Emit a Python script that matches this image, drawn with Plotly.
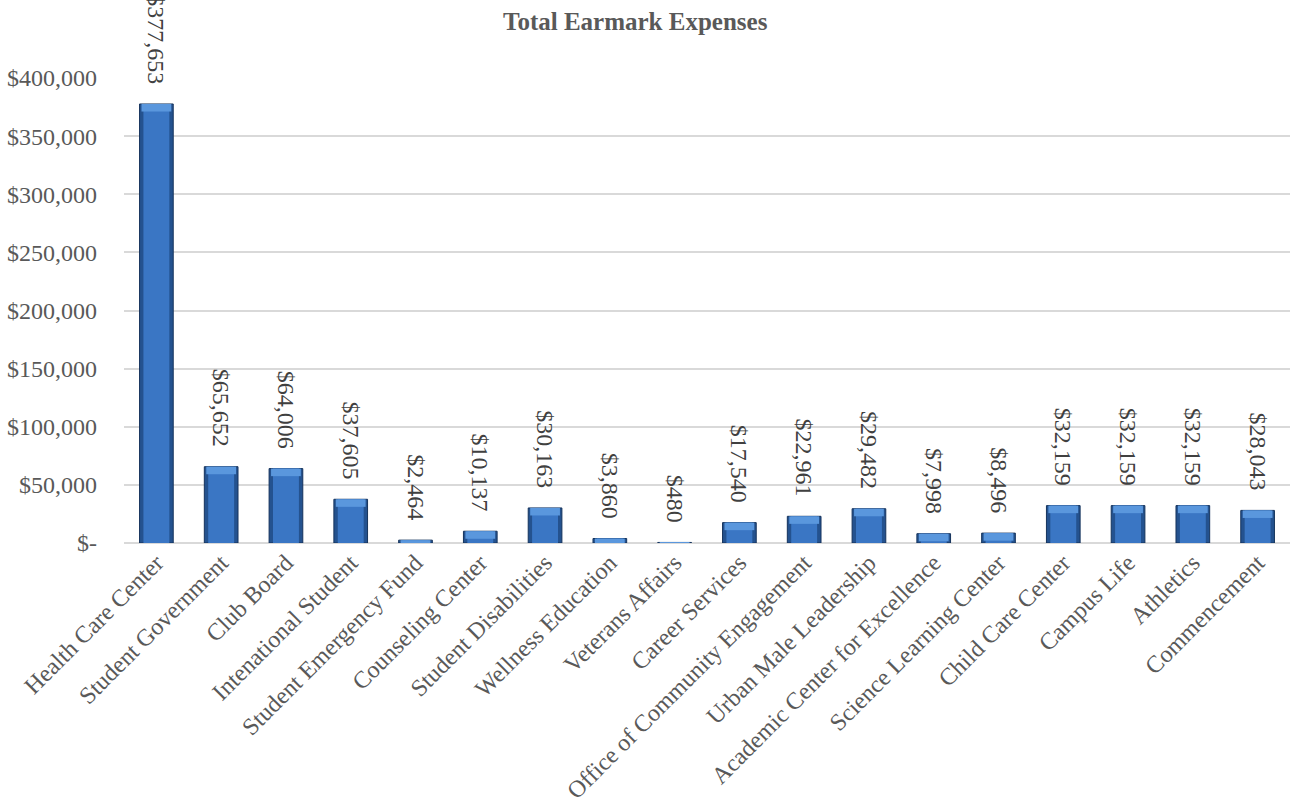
import plotly.graph_objects as go

categories = [
    "Health Care Center", "Student Government", "Club Board", "Intenational Student",
    "Student Emergency Fund", "Counseling Center", "Student Disabilities", "Wellness Education",
    "Veterans Affairs", "Career Services", "Office of Community Engagement",
    "Urban Male Leadership", "Academic Center for Excellence", "Science Learning Center",
    "Child Care Center", "Campus Life", "Athletics", "Commencement",
]
values = [377653, 65652, 64006, 37605, 2464, 10137, 30163, 3860, 480, 17540,
          22961, 29482, 7998, 8496, 32159, 32159, 32159, 28043]

tick_vals = [0, 50000, 100000, 150000, 200000, 250000, 300000, 350000, 400000]
tick_text = ["$-", "$50,000", "$100,000", "$150,000", "$200,000", "$250,000",
             "$300,000", "$350,000", "$400,000"]

labels = ["${:,}".format(v) + "\u00a0\u00a0\u2009" for v in values]

FONT = "Liberation Serif, Times New Roman, serif"

# bevel highlight band depth (data units)
BEVEL = 6500
top_base = [max(v - BEVEL, 0) for v in values]
top_height = [v - b for v, b in zip(values, top_base)]

fig = go.Figure()
# outer (dark edges)
fig.add_trace(go.Bar(
    x=categories, y=values,
    text=labels, textposition="outside", textangle=90,
    textfont=dict(family=FONT, size=24, color="#404040"),
    constraintext="none", cliponaxis=False,
    marker=dict(color="#24528F", line=dict(color="#15335C", width=1)),
    width=0.52, hoverinfo="x+y",
))
# center (lighter body)
fig.add_trace(go.Bar(
    x=categories, y=values,
    marker=dict(color="#3A76C4", line=dict(width=0)),
    width=0.40, hoverinfo="skip",
))
# top bevel highlight
fig.add_trace(go.Bar(
    x=categories, y=top_height, base=top_base,
    marker=dict(color="#5A97DD", line=dict(width=0)),
    width=0.46, hoverinfo="skip",
))

fig.update_layout(
    width=1290, height=808,
    barmode="overlay",
    margin=dict(l=124, r=0, t=78, b=265),
    paper_bgcolor="white", plot_bgcolor="white",
    showlegend=False,
    font=dict(family=FONT, color="#595959"),
    annotations=[dict(
        text="<b>Total Earmark Expenses</b>",
        x=(635 - 124) / (1290 - 124), xref="paper", xanchor="center",
        y=(808 - 265 - 21) / (808 - 78 - 265), yref="paper", yanchor="middle",
        showarrow=False, font=dict(family=FONT, size=25, color="#595959"),
    )],
)

fig.update_xaxes(
    tickangle=-45, tickfont=dict(family=FONT, size=24, color="#595959"),
    showgrid=False, showline=False, ticks="",
)
fig.update_yaxes(
    range=[0, 400000], tickvals=tick_vals, ticktext=tick_text,
    tickfont=dict(family=FONT, size=24, color="#595959"),
    showgrid=True, gridcolor="#D9D9D9", gridwidth=1.5,
    zeroline=True, zerolinecolor="#D9D9D9", zerolinewidth=1.5,
    showline=False, ticks="", ticklabelstandoff=26,
)

fig.write_html("out.html")
